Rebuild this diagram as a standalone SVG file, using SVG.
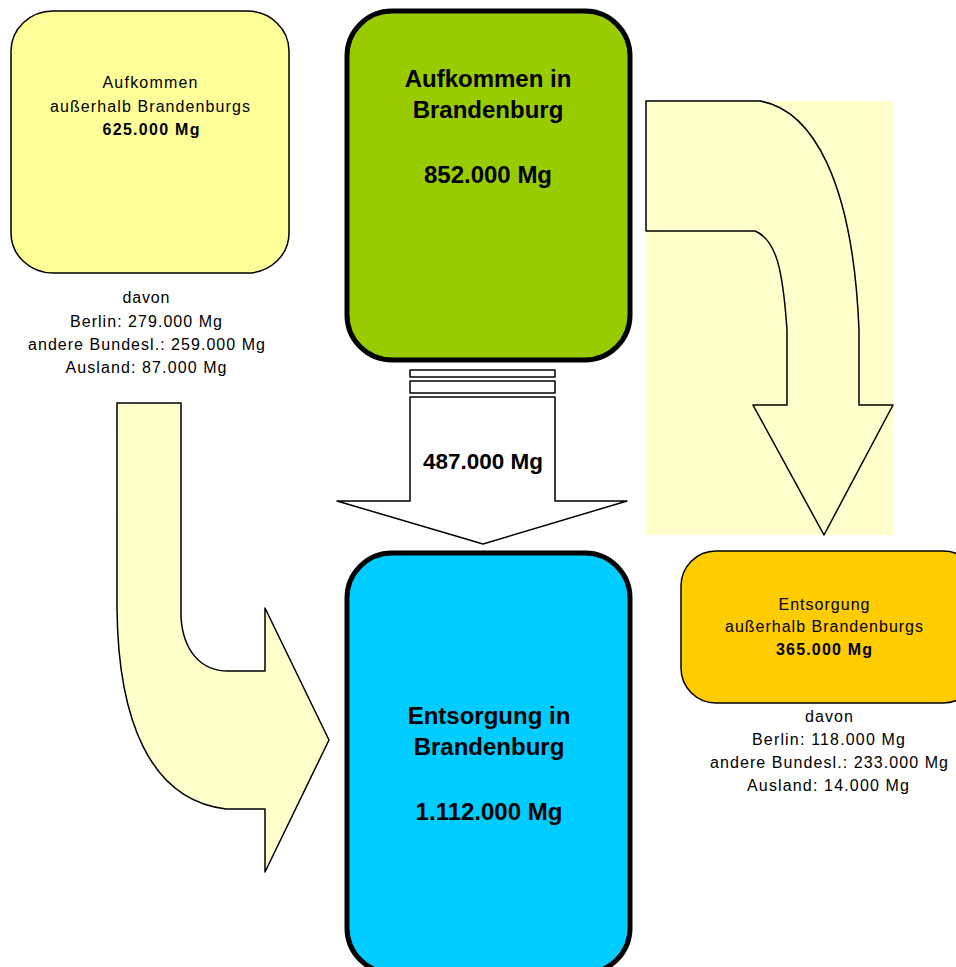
<svg xmlns="http://www.w3.org/2000/svg" width="956" height="967" viewBox="0 0 956 967">
<style>
  .t { font-family: "Liberation Sans", Arial, sans-serif; fill: #000; text-anchor: middle; }
  .s { font-size: 16px; }
  .sb { font-size: 16px; font-weight: bold; }
  .big { font-size: 24px; font-weight: bold; }
  .mid { font-size: 22px; font-weight: bold; }
  .thin { stroke: #000; stroke-width: 1.5; stroke-linejoin: round; }
  .thick { stroke: #000; stroke-width: 5; }
</style>
<rect width="956" height="967" fill="#fff"/>

<g id="connectors">
  <!-- right curved arrow with background -->
  <rect x="646" y="101" width="247" height="434" fill="#FFFFCC"/>
  <path class="thin" fill="#FFFFCC" d="M646,101 L760,101 C812,110 853,180 859,330 L859,405 L893,405 L824,535 L753,405 L787,405 L787,330 C783,272 777,240 755,231 L646,231 Z"/>
  <!-- left curved arrow -->
  <path class="thin" fill="#FFFFCC" d="M117,403 L181,403 L181,617 C183,650 200,671 228,671 L265,671 L265,608 L329,740 L265,872 L265,809 L226,809 C150,800 118,720 117,608 Z"/>
  <!-- middle down arrow -->
  <rect class="thin" x="410" y="370" width="145" height="7" fill="#fff"/>
  <rect class="thin" x="410" y="381" width="145" height="12" fill="#fff"/>
  <path class="thin" fill="#fff" d="M410,397 L555,397 L555,501 L627,501 L483,544 L337,501 L410,501 Z"/>
  <text class="t mid" x="483" y="469" textLength="120" lengthAdjust="spacingAndGlyphs">487.000 Mg</text>
</g>

<g id="node-aufkommen-ausserhalb">
  <rect class="thin" x="11" y="11" width="278" height="262" rx="42" ry="40" fill="#FFFF99"/>
  <text class="t s" x="150" y="88" textLength="95">Aufkommen</text>
  <text class="t s" x="150" y="112" textLength="200">außerhalb Brandenburgs</text>
  <text class="t sb" x="151" y="135" textLength="97">625.000 Mg</text>
</g>

<g id="note-aufkommen-ausserhalb">
  <text class="t s" x="146" y="303" textLength="47">davon</text>
  <text class="t s" x="146" y="327" textLength="152">Berlin: 279.000 Mg</text>
  <text class="t s" x="146.5" y="350" textLength="237">andere Bundesl.: 259.000 Mg</text>
  <text class="t s" x="146" y="373" textLength="161">Ausland: 87.000 Mg</text>
</g>

<g id="node-aufkommen-brandenburg">
  <rect class="thick" x="347" y="11" width="283" height="349" rx="45" ry="45" fill="#99CC00"/>
  <text class="t big" x="488" y="87">Aufkommen in</text>
  <text class="t big" x="488" y="118">Brandenburg</text>
  <text class="t big" x="488" y="183">852.000 Mg</text>
</g>

<g id="node-entsorgung-brandenburg">
  <rect class="thick" x="347" y="553" width="283" height="420" rx="45" ry="45" fill="#00CCFF"/>
  <text class="t big" x="489" y="724">Entsorgung in</text>
  <text class="t big" x="489" y="755">Brandenburg</text>
  <text class="t big" x="489" y="820">1.112.000 Mg</text>
</g>

<g id="node-entsorgung-ausserhalb">
  <rect class="thin" x="681" y="551" width="297" height="152" rx="35" ry="35" fill="#FFCC00"/>
  <text class="t s" x="824" y="610" textLength="91">Entsorgung</text>
  <text class="t s" x="824" y="632" textLength="198">außerhalb Brandenburgs</text>
  <text class="t sb" x="824" y="655" textLength="96">365.000 Mg</text>
</g>

<g id="note-entsorgung-ausserhalb">
  <text class="t s" x="829" y="722" textLength="48">davon</text>
  <text class="t s" x="828.5" y="745" textLength="153">Berlin: 118.000 Mg</text>
  <text class="t s" x="829" y="768" textLength="238">andere Bundesl.: 233.000 Mg</text>
  <text class="t s" x="828" y="791" textLength="162">Ausland: 14.000 Mg</text>
</g>
</svg>
